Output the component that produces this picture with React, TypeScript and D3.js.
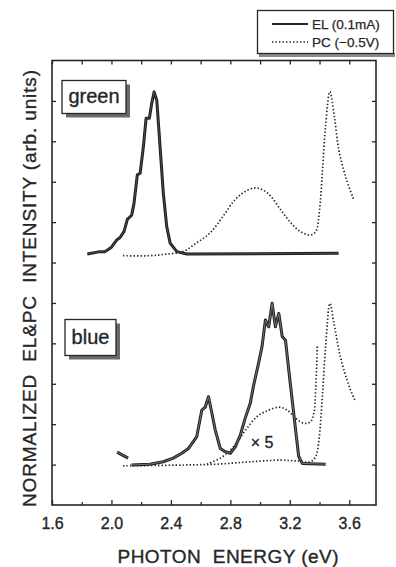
import React, { useEffect, useRef } from 'react'
import * as d3 from 'd3'

// photon energy (eV), stacked intensity in axis units (1 unit = one y tick)
const greenEL: [number, number][] = [
  [1.838, 6.21], [1.923, 6.27], [1.957, 6.27], [2.0, 6.38], [2.036, 6.56], [2.058, 6.62],
  [2.085, 6.77], [2.107, 7.07], [2.136, 7.17], [2.152, 7.47], [2.174, 8.17], [2.193, 8.21],
  [2.215, 8.87], [2.233, 9.57], [2.255, 9.57], [2.271, 9.94], [2.287, 10.22], [2.305, 10.02],
  [2.327, 8.87], [2.349, 7.72], [2.372, 6.89], [2.395, 6.48], [2.44, 6.27], [2.507, 6.21],
  [3.528, 6.23],
]
const greenPC: [number, number][] = [
  [2.078, 6.17], [2.26, 6.17], [2.37, 6.21], [2.48, 6.27], [2.57, 6.48], [2.66, 6.72],
  [2.75, 7.14], [2.83, 7.55], [2.9, 7.76], [2.97, 7.85], [3.05, 7.72], [3.14, 7.3],
  [3.21, 6.97], [3.27, 6.77], [3.34, 6.68], [3.375, 6.77], [3.4, 7.3], [3.42, 8.29],
  [3.44, 9.36], [3.47, 10.23], [3.5, 9.61], [3.53, 8.79], [3.575, 8.13], [3.63, 7.55],
]
const blueEL: [number, number][] = [
  [2.135, 0.99], [2.259, 1.01], [2.349, 1.07], [2.416, 1.16], [2.473, 1.28], [2.518, 1.4],
  [2.551, 1.57], [2.574, 1.69], [2.608, 2.35], [2.631, 2.42], [2.653, 2.68], [2.676, 2.27],
  [2.698, 1.86], [2.732, 1.4], [2.766, 1.32], [2.8, 1.28], [2.833, 1.44], [2.867, 1.73],
  [2.9, 2.15], [2.934, 2.52], [2.957, 2.97], [2.99, 3.51], [3.013, 3.92], [3.036, 4.58],
  [3.058, 4.41], [3.081, 4.99], [3.103, 4.41], [3.126, 4.74], [3.149, 4.17], [3.171, 4.08],
  [3.193, 3.34], [3.216, 2.6], [3.239, 1.86], [3.26, 1.2], [3.284, 1.03], [3.441, 1.01],
]
const blueTail: [number, number][] = [[2.038, 1.31], [2.112, 1.16]]
const bluePC: [number, number][] = [
  [2.078, 0.97], [2.484, 0.99], [2.71, 1.01], [2.934, 1.07], [3.137, 1.11], [3.25, 1.09],
  [3.34, 1.07], [3.374, 1.2], [3.396, 1.61], [3.419, 2.68], [3.441, 3.92], [3.47, 4.99],
  [3.497, 4.5], [3.54, 3.67], [3.6, 2.93], [3.637, 2.6],
]
const bluePCx5: [number, number][] = [
  [2.642, 1.01], [2.732, 1.16], [2.8, 1.36], [2.856, 1.61], [2.912, 1.9], [2.98, 2.19],
  [3.047, 2.33], [3.126, 2.42], [3.182, 2.35], [3.239, 2.15], [3.295, 2.02], [3.34, 2.06],
  [3.362, 2.27], [3.374, 2.85], [3.385, 3.92],
]
const xMajor = [1.6, 2.0, 2.4, 2.8, 3.2, 3.6]
const xMinor = [1.8, 2.2, 2.6, 3.0, 3.4]
const yTicks = [1, 2, 3, 4, 5, 6, 7, 8, 9, 10]

const FONT = '"Liberation Sans", Arial, sans-serif'
const INK = '#262626'

export default function App() {
  const ref = useRef<SVGSVGElement>(null)

  useEffect(() => {
    const svg = d3.select(ref.current)
    svg.selectAll('*').remove()

    const left = 52, right = 376, top = 60.5, bottom = 505
    const x = d3.scaleLinear().domain([1.6, 3.78]).range([left, right])
    const y = d3.scaleLinear().domain([0, 11]).range([bottom, top])

    svg.append('rect').attr('width', 396).attr('height', 567).attr('fill', '#fff')

    // scanned print looks heavy: thicken text a little
    const ink = (t: any, size: number) => t.attr('font-family', FONT).attr('font-size', size)
      .attr('fill', INK).attr('stroke', INK).attr('stroke-width', 0.35)

    // ticks (all inward)
    const bottomAxis = svg.append('g').attr('transform', `translate(0,${bottom})`)
      .call(d3.axisBottom(x).tickValues(xMajor).tickSize(-5).tickPadding(13).tickFormat(d3.format('.1f')))
    const bottomMinor = svg.append('g').attr('transform', `translate(0,${bottom})`)
      .call(d3.axisBottom(x).tickValues(xMinor).tickSize(-3).tickFormat(() => ''))
    const topAxis = svg.append('g').attr('transform', `translate(0,${top})`)
      .call(d3.axisTop(x).tickValues([...xMajor, ...xMinor]).tickSize(-4).tickFormat(() => ''))
    const leftAxis = svg.append('g').attr('transform', `translate(${left},0)`)
      .call(d3.axisLeft(y).tickValues(yTicks).tickSize(-4).tickFormat(() => ''))
    const rightAxis = svg.append('g').attr('transform', `translate(${right},0)`)
      .call(d3.axisRight(y).tickValues(yTicks).tickSize(-4).tickFormat(() => ''))
    ;[bottomAxis, bottomMinor, topAxis, leftAxis, rightAxis].forEach(g => {
      g.select('.domain').remove()
      g.selectAll('line').attr('stroke', INK).attr('stroke-width', 1.3)
    })
    ink(bottomAxis.selectAll('text'), 16)

    // frame
    svg.append('rect')
      .attr('x', left).attr('y', top)
      .attr('width', right - left).attr('height', bottom - top)
      .attr('fill', 'none').attr('stroke', INK).attr('stroke-width', 1.6)

    const line = d3.line<[number, number]>().x(d => x(d[0])).y(d => y(d[1]))
    const smooth = d3.line<[number, number]>().x(d => x(d[0])).y(d => y(d[1])).curve(d3.curveCatmullRom)

    // PC (dotted)
    ;[greenPC, bluePC, bluePCx5].forEach(d => {
      svg.append('path').attr('d', smooth(d)).attr('fill', 'none')
        .attr('stroke', INK).attr('stroke-width', 1.7)
        .attr('stroke-dasharray', '1.4 2.1')
    })

    // EL (thick, double-struck look)
    ;[greenEL, blueEL, blueTail].forEach((d, i) => {
      svg.append('path').attr('d', line(d)).attr('fill', 'none')
        .attr('stroke', '#1e1e1e').attr('stroke-width', 3).attr('stroke-linejoin', 'round')
      svg.append('path').attr('d', line(d)).attr('fill', 'none')
        .attr('stroke', i === 0 ? '#555' : '#8a8a8a').attr('stroke-width', 0.8).attr('stroke-linejoin', 'round')
    })

    // panel labels with drop shadow
    const tag = (bx: number, by: number, w: number, h: number, label: string) => {
      svg.append('rect').attr('x', bx + 4).attr('y', by + 4).attr('width', w).attr('height', h).attr('fill', '#6a6a6a')
      svg.append('rect').attr('x', bx).attr('y', by).attr('width', w).attr('height', h)
        .attr('fill', '#fff').attr('stroke', INK).attr('stroke-width', 1.3)
      ink(svg.append('text').attr('x', bx + w / 2).attr('y', by + h / 2 + 6).attr('text-anchor', 'middle'), 20)
        .text(label)
    }
    tag(62, 80.5, 64, 33, 'green')
    tag(65, 319.5, 51, 36, 'blue')

    ink(svg.append('text').attr('x', 262).attr('y', 448).attr('text-anchor', 'middle'), 16).text('× 5')

    // legend
    svg.append('rect').attr('x', 259).attr('y', 53).attr('width', 136).attr('height', 4).attr('fill', '#8a8a8a')
    svg.append('rect').attr('x', 257.5).attr('y', 10.5).attr('width', 136).attr('height', 43)
      .attr('fill', '#fff').attr('stroke', INK).attr('stroke-width', 1.3)
    const leg = [
      { label: 'EL (0.1mA)', yy: 24, dash: null as string | null },
      { label: 'PC (−0.5V)', yy: 42, dash: '1.4 2.1' },
    ]
    leg.forEach(l => {
      svg.append('line').attr('x1', 272).attr('x2', 308).attr('y1', l.yy).attr('y2', l.yy)
        .attr('stroke', INK).attr('stroke-width', l.dash ? 1.6 : 1.8)
        .attr('stroke-dasharray', l.dash)
      ink(svg.append('text').attr('x', 312).attr('y', l.yy + 5), 13.5)
        .attr('stroke-width', 0.25).text(l.label)
    })

    // axis titles
    ink(svg.append('text').attr('x', 228).attr('y', 563).attr('text-anchor', 'middle'), 19)
      .attr('textLength', 221).attr('lengthAdjust', 'spacing')
      .style('white-space', 'pre').text('PHOTON  ENERGY (eV)')
    ink(svg.append('text').attr('transform', 'translate(36,288.5) rotate(-90)').attr('text-anchor', 'middle'), 19)
      .attr('textLength', 437).attr('lengthAdjust', 'spacing')
      .style('white-space', 'pre').text('NORMALIZED  EL&PC  INTENSITY (arb. units)')
  }, [])

  return (
    <svg ref={ref} width={396} height={567}
      style={{ position: 'absolute', left: 0, top: 0, display: 'block' }} />
  )
}
